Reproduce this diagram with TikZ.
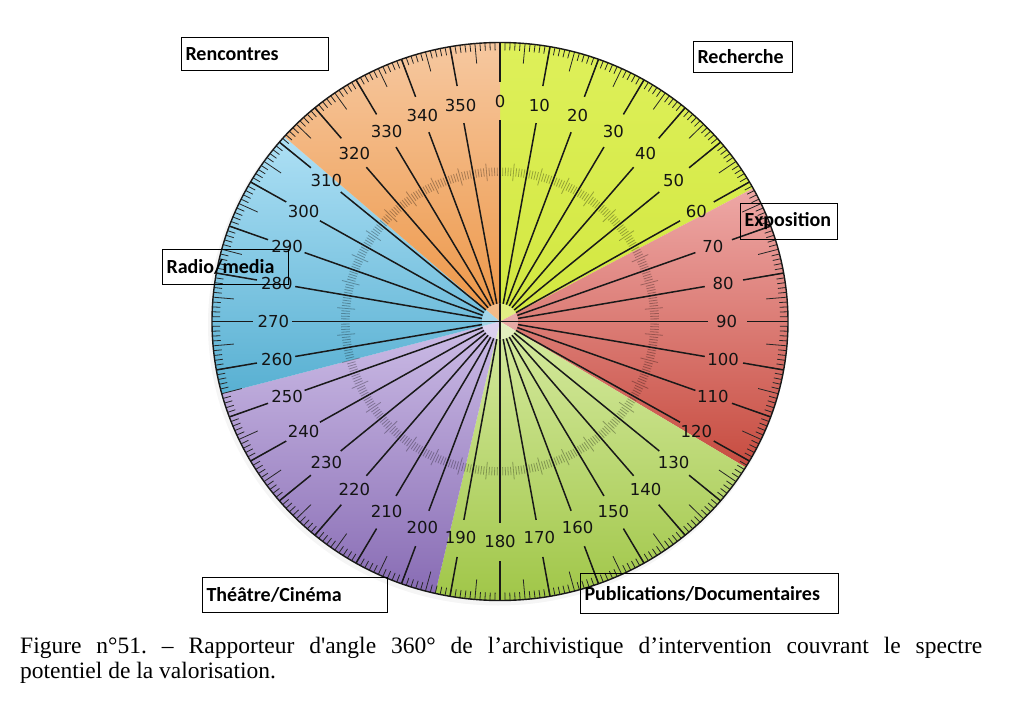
\documentclass[tikz,border=0pt]{standalone}
\usepackage{fontspec}
\newfontfamily\numfont{DejaVu Sans}
\newfontfamily\boxfont{Carlito}
\newfontfamily\capfont{Liberation Serif}
\definecolor{yelA}{RGB}{222,240,90}
\definecolor{yelB}{RGB}{210,231,64}
\definecolor{redA}{RGB}{238,168,166}
\definecolor{redB}{RGB}{199,76,64}
\definecolor{grnA}{RGB}{214,234,160}
\definecolor{grnB}{RGB}{160,198,72}
\definecolor{purA}{RGB}{204,188,230}
\definecolor{purB}{RGB}{136,108,180}
\definecolor{bluA}{RGB}{174,224,245}
\definecolor{bluB}{RGB}{88,176,210}
\definecolor{oraA}{RGB}{246,200,160}
\definecolor{oraB}{RGB}{237,150,70}
\begin{document}
\begin{tikzpicture}[x=1pt,y=-1pt,
  catbox/.style={draw=black, line width=1pt, inner sep=4pt, anchor=north west,
    font=\boxfont\bfseries\fontsize{20}{24}\selectfont, align=left},
  numlabel/.style={font=\numfont\fontsize{16.5}{18}\selectfont, text=black!92, inner sep=0pt},
  tenline/.style={line width=1.5pt, black!90},
  tickline/.style={line width=0.8pt, black!85},
  ringtick/.style={line width=0.8pt, black, opacity=0.3},
  rim/.style={line width=1.4pt, black!90}]
\useasboundingbox (0,0) rectangle (1009,703);
\fill[white] (0,0) rectangle (1009,703);
\begin{scope}[shift={(500pt,-321.5pt)}, x=288pt, y=279pt]
  % soft shadow
  \fill[black, opacity=0.04] (-2pt,-3pt) ellipse[x radius=290pt, y radius=281pt];
  % sectors
  \shade[top color=yelA, bottom color=yelB] (0,0) -- plot[variable=\t, domain=0:61.5, samples=60] ({sin(\t)},{cos(\t)}) -- cycle;
  \shade[top color=redA, bottom color=redB] (0,0) -- plot[variable=\t, domain=61.5:121.5, samples=60] ({sin(\t)},{cos(\t)}) -- cycle;
  \shade[top color=grnA, bottom color=grnB] (0,0) -- plot[variable=\t, domain=121.5:193, samples=60] ({sin(\t)},{cos(\t)}) -- cycle;
  \shade[top color=purA, bottom color=purB] (0,0) -- plot[variable=\t, domain=193:255, samples=60] ({sin(\t)},{cos(\t)}) -- cycle;
  \shade[top color=bluA, bottom color=bluB] (0,0) -- plot[variable=\t, domain=255:311.5, samples=60] ({sin(\t)},{cos(\t)}) -- cycle;
  \shade[top color=oraA, bottom color=oraB] (0,0) -- plot[variable=\t, domain=311.5:360, samples=60] ({sin(\t)},{cos(\t)}) -- cycle;
  % inner grey ring
  \foreach \t in {0,...,359}{
    \pgfmathsetmacro{\ri}{mod(\t,5)==0 ? 0.505 : 0.522}
    \pgfmathsetmacro{\ro}{mod(\t,5)==0 ? 0.568 : 0.552}
    \draw[ringtick] ({\ri*sin(\t)},{\ri*cos(\t)}) -- ({\ro*sin(\t)},{\ro*cos(\t)});
  }
  % outer ticks
  \foreach \t in {0,...,359}{
    \pgfmathsetmacro{\rl}{mod(\t,5)==0 ? 0.928 : 0.972}
    \draw[tickline] ({sin(\t)},{cos(\t)}) -- ({\rl*sin(\t)},{\rl*cos(\t)});
  }
  % ten-degree lines and labels
  \foreach \t in {0,10,...,350}{
    \draw[tenline] ({sin(\t)},{cos(\t)}) -- ({0.857*sin(\t)},{0.857*cos(\t)});
    \draw[tenline] ({0.722*sin(\t)},{0.722*cos(\t)}) -- ({0.064*sin(\t)},{0.064*cos(\t)});
    \node[numlabel] (lbl\t) at ({0.787*sin(\t)},{0.787*cos(\t)}) {\t};
  }
  % centre
  \fill[white, opacity=0.35] (0,0) circle[radius=18pt];
  \draw[tenline] (0,0.064) -- (0,-0.064);
  \draw[tenline] (-0.064,0) -- (0.064,0);
  % rim
  \draw[rim] (0,0) ellipse[x radius=288pt, y radius=279pt];
\end{scope}
% category boxes
\node[catbox, text width=139pt, minimum height=33pt] (rencontres) at (181,37) {Rencontres};
\node[catbox, text width=91pt, minimum height=31pt] (recherche) at (693,41) {Recherche};
\node[catbox, text width=89pt, minimum height=36pt] (exposition) at (740,203) {Exposition};
\node[catbox, text width=118pt, minimum height=35pt] (radio) at (162,249) {Radio/media};
\node[catbox, text width=177pt, minimum height=35pt] (theatre) at (202,577) {Théâtre/Cinéma};
\node[catbox, text width=250pt, minimum height=40pt] (publications) at (580,573) {Publications/Documentaires};
% caption
\node[anchor=north west, inner sep=0pt, text width=962pt, align=justify,
  font=\capfont\fontsize{23.5}{25}\selectfont\frenchspacing] (caption) at (20,637)
  {Figure n°51. – Rapporteur d'angle 360° de l’archivistique d’intervention couvrant le spectre\linebreak potentiel de la valorisation.};
\end{tikzpicture}
\end{document}
